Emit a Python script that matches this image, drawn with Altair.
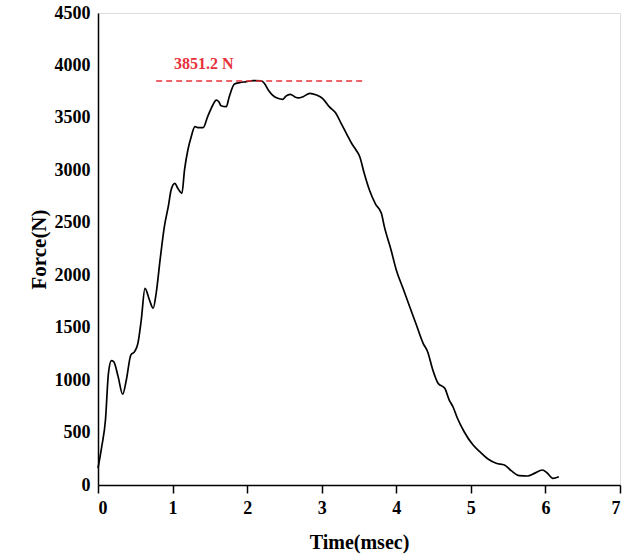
import altair as alt
import pandas as pd

time_ms = [0.0, 0.05, 0.1, 0.14, 0.18, 0.21, 0.27, 0.33, 0.38, 0.44, 0.49, 0.535,
           0.58, 0.63, 0.69, 0.74, 0.78, 0.835, 0.89, 0.946, 0.98, 1.03, 1.07, 1.125,
           1.16, 1.205, 1.25, 1.30, 1.35, 1.41, 1.47, 1.54, 1.585, 1.62, 1.65, 1.72,
           1.76, 1.83, 1.90, 1.99, 2.08, 2.19, 2.23, 2.29, 2.34, 2.41, 2.48, 2.52,
           2.58, 2.64, 2.69, 2.75, 2.84, 2.93, 3.01, 3.10, 3.19, 3.26, 3.33, 3.40,
           3.46, 3.51, 3.57, 3.64, 3.72, 3.80, 3.84, 3.93, 4.0, 4.09, 4.18, 4.27,
           4.36, 4.42, 4.49, 4.56, 4.65, 4.71, 4.76, 4.82, 4.91, 5.03, 5.12, 5.23,
           5.34, 5.45, 5.54, 5.65, 5.76, 5.85, 5.96, 6.02, 6.10, 6.18]
force_n = [160, 365, 620, 1065, 1185, 1176, 1033, 865, 1001, 1239, 1271, 1350,
           1573, 1875, 1764, 1685, 1828, 2161, 2463, 2669, 2812, 2876, 2829, 2781,
           3003, 3194, 3321, 3416, 3407, 3407, 3511, 3623, 3670, 3654, 3616, 3607,
           3702, 3823, 3836, 3845, 3855, 3852, 3830, 3759, 3718, 3687, 3677, 3708,
           3725, 3700, 3690, 3702, 3734, 3718, 3687, 3607, 3544, 3448, 3353, 3258,
           3194, 3130, 2972, 2812, 2680, 2590, 2463, 2240, 2050, 1875, 1700, 1525,
           1351, 1271, 1096, 970, 922, 810, 746, 636, 508, 381, 318, 248,
           207, 191, 137, 89, 86, 111, 143, 117, 64, 79]

peak_value = 3851.2
peak_label = "3851.2 N"
peak_start, peak_end = 0.78, 3.57
label_time = 1.42
label_force = 3935

x_ticks = [0, 0.5, 1, 1.5, 2, 2.5, 3, 3.5, 4, 4.5, 5, 5.5, 6, 6.5, 7]
y_ticks = [0, 500, 1000, 1500, 2000, 2500, 3000, 3500, 4000, 4500]

FONT = "Liberation Serif"

df = pd.DataFrame({"t": time_ms, "f": force_n})
peak_df = pd.DataFrame({"t": [peak_start], "t2": [peak_end], "f": [peak_value]})
lab_df = pd.DataFrame({"t": [label_time], "f": [label_force], "txt": [peak_label]})

xscale = alt.Scale(domain=[0, 7], nice=False, zero=False)
yscale = alt.Scale(domain=[0, 4500], nice=False)

line = alt.Chart(df).mark_line(color="black", strokeWidth=1.7, interpolate="monotone").encode(
    x=alt.X("t:Q", scale=xscale,
            axis=alt.Axis(title="Time(msec)", values=x_ticks,
                          tickSize={"condition": {"test": "datum.value % 1 !== 0", "value": 5}, "value": 8},
                          tickWidth=1.5,
                          labelExpr="datum.value % 1 === 0 ? datum.label : ''",
                          labelPadding=6, titlePadding=15, format="d",
                          labelFontSize=18, titleFontSize=20, labelFont=FONT, titleFont=FONT,
                          labelFontWeight="bold", titleFontWeight="bold",
                          domainColor="black", tickColor="black", domainWidth=1.5,
                          labelColor="black", titleColor="black", grid=False)),
    y=alt.Y("f:Q", scale=yscale,
            axis=alt.Axis(title="Force(N)", values=y_ticks, tickSize=0, labelPadding=8,
                          titlePadding=5, labelFontSize=18, titleFontSize=21, format="d",
                          labelFont=FONT, titleFont=FONT, labelFontWeight="bold",
                          titleFontWeight="bold", domainColor="black", domainWidth=1.5,
                          labelColor="black", titleColor="black", grid=False)),
)

rule = alt.Chart(peak_df).mark_rule(color="#e8303a", strokeWidth=1.5, strokeDash=[6, 4]).encode(
    x="t:Q", x2="t2:Q", y="f:Q"
)

text = alt.Chart(lab_df).mark_text(color="#e8303a", font=FONT, fontWeight="bold",
                                   fontSize=16, baseline="bottom", align="center").encode(
    x="t:Q", y="f:Q", text="txt:N"
)

chart = alt.layer(line, rule, text).properties(
    width=522, height=472,
    autosize=alt.AutoSizeParams(type="none"),
    padding={"left": 98, "top": 13, "right": 24, "bottom": 75},
).configure_view(stroke="black", strokeWidth=1.5).configure(background="white")

chart.save("out.html", embed_options={"renderer": "svg", "actions": False})
